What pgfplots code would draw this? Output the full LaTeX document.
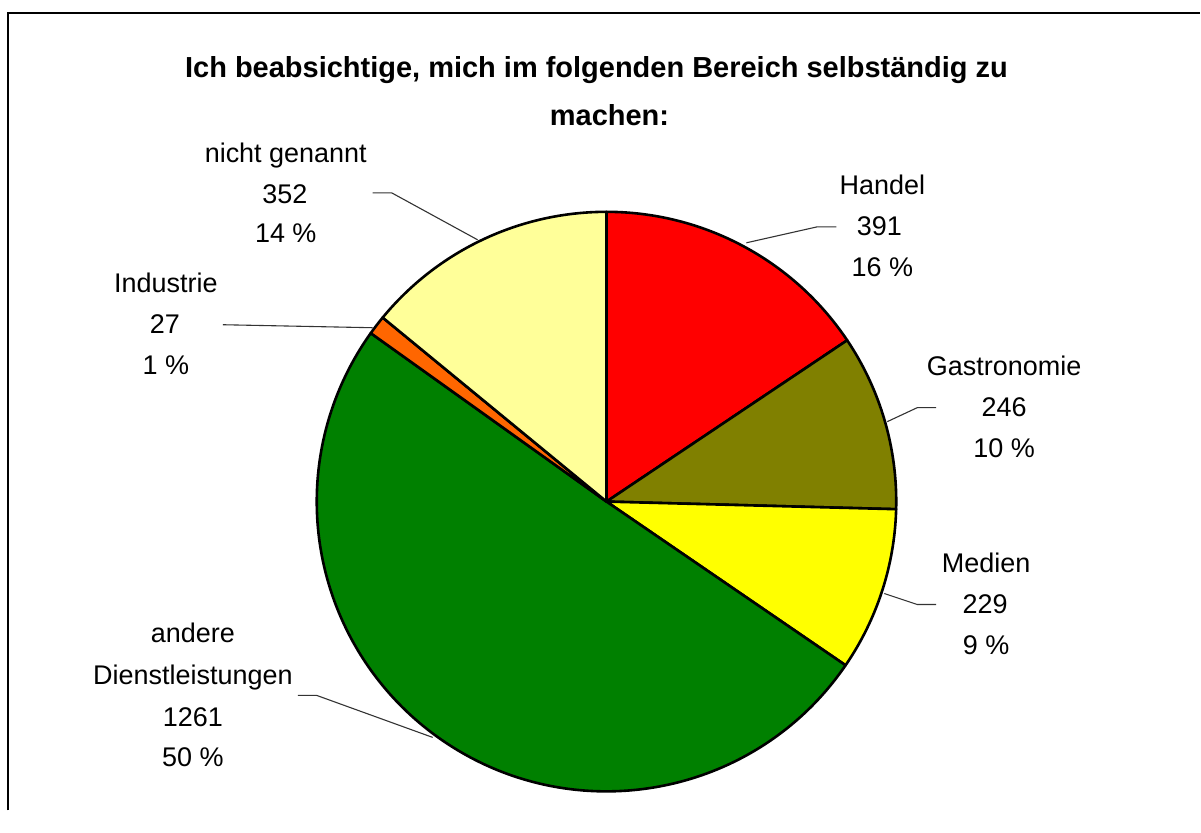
\documentclass[border=0pt]{standalone}
\usepackage{pgfplots}
\pgfplotsset{compat=1.18}
\usepackage{fontspec}
\setmainfont{Liberation Sans}

\definecolor{cHandel}{HTML}{FF0000}
\definecolor{cGastro}{HTML}{808000}
\definecolor{cMedien}{HTML}{FFFF00}
\definecolor{cDienst}{HTML}{008000}
\definecolor{cIndustrie}{HTML}{FF6600}
\definecolor{cNicht}{HTML}{FFFF99}

% slice values, clockwise from 12 o'clock
\def\slices{391/cHandel,246/cGastro,229/cMedien,1261/cDienst,27/cIndustrie,352/cNicht}

\begin{document}
\begin{tikzpicture}[font=\fontsize{27}{31}\selectfont]
\begin{axis}[
  scale only axis, width=1201pt, height=811pt,
  xmin=0, xmax=1201, ymin=0, ymax=811,
  y dir=reverse,
  hide axis, clip=false
]
\path (axis cs:0,0) rectangle (axis cs:1201,811);
% frame (right and bottom sides run off the picture)
\draw[line width=2pt] (axis cs:8,811) -- (axis cs:8,13) -- (axis cs:1201,13);

% total
\xdef\total{0}
\foreach \v/\c in \slices {\pgfmathsetmacro\t{\total+\v}\xdef\total{\t}}

% pie slices
\xdef\angA{90}
\foreach \v/\c in \slices {
  \pgfmathsetmacro\angB{\angA-\v/\total*360}
  \edef\temp{\noexpand\filldraw[fill=\c, draw=black, line width=2.6pt, line join=round]
    (axis cs:607,502) -- ++(\angA:290pt)
    arc[start angle=\angA, end angle=\angB, radius=290pt] -- cycle;}
  \temp
  \xdef\angA{\angB}
}

% leader lines
\draw[line width=1.1pt, black!80] (axis cs:837,227) -- (axis cs:818,227) -- (axis cs:747,243);
\draw[line width=1.1pt, black!80] (axis cs:937,408) -- (axis cs:918,408) -- (axis cs:888,422);
\draw[line width=1.1pt, black!80] (axis cs:937,605) -- (axis cs:918,605) -- (axis cs:885,594);
\draw[line width=1.1pt, black!80] (axis cs:298,696) -- (axis cs:317,696) -- (axis cs:433,738);
\draw[line width=1.1pt, black!80] (axis cs:223,325) -- (axis cs:373,328);
\draw[line width=1.1pt, black!80] (axis cs:373,193) -- (axis cs:392,193) -- (axis cs:478,240);

% title
\node[anchor=base, font=\fontsize{29}{34}\selectfont\bfseries] at (axis cs:597,78)
  {Ich beabsichtige, mich im folgenden Bereich selbständig zu};
\node[anchor=base, font=\fontsize{29}{34}\selectfont\bfseries] at (axis cs:610,126) {machen:};

% labels
\node[anchor=base] at (axis cs:883,195) {Handel};
\node[anchor=base] at (axis cs:880,236) {391};
\node[anchor=base] at (axis cs:883,277) {16 \%};

\node[anchor=base] at (axis cs:1005,376) {Gastronomie};
\node[anchor=base] at (axis cs:1005,417) {246};
\node[anchor=base] at (axis cs:1005,458) {10 \%};

\node[anchor=base] at (axis cs:987,573) {Medien};
\node[anchor=base] at (axis cs:986,614) {229};
\node[anchor=base] at (axis cs:987,655) {9 \%};

\node[anchor=base] at (axis cs:193,643) {andere};
\node[anchor=base] at (axis cs:193,685) {Dienstleistungen};
\node[anchor=base] at (axis cs:193,727) {1261};
\node[anchor=base] at (axis cs:193,767) {50 \%};

\node[anchor=base] at (axis cs:166,293) {Industrie};
\node[anchor=base] at (axis cs:165,334) {27};
\node[anchor=base] at (axis cs:166,375) {1 \%};

\node[anchor=base] at (axis cs:286,163) {nicht genannt};
\node[anchor=base] at (axis cs:285,204) {352};
\node[anchor=base] at (axis cs:286,243) {14 \%};
\end{axis}
\end{tikzpicture}
\end{document}
